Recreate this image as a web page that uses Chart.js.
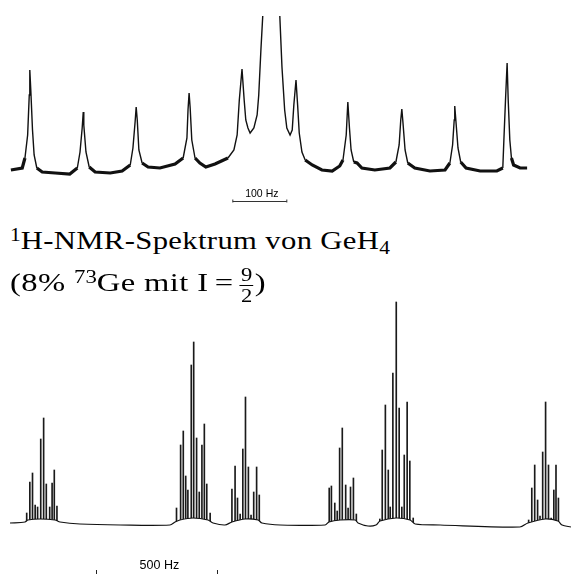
<!DOCTYPE html>
<html>
<head>
<meta charset="utf-8">
<script src="https://cdn.jsdelivr.net/npm/chart.js@4/dist/chart.umd.min.js"></script>
<style>
  html, body { margin: 0; padding: 0; background: #fff; }
  body { width: 571px; height: 574px; position: relative; overflow: hidden; }
  .box { position: absolute; left: 0; }
  .t { position: absolute; left: 10px; font-family: 'Liberation Serif', serif; font-size: 26px; line-height: 26px; letter-spacing: 0.3px; color: #000; white-space: nowrap; transform-origin: 0 0; }
  .t sup { font-size: 0.7em; vertical-align: 0.45em; line-height: 0; letter-spacing: 0; }
  .t sub { font-size: 0.7em; vertical-align: -0.25em; line-height: 0; letter-spacing: 0; }
  .rel { margin: 0 5px; }
  .frac { display: inline-block; vertical-align: middle; text-align: center; font-size: 18px; line-height: 1; letter-spacing: 0; margin-right: 1px; }
  .frac .num { display: block; padding: 0 1px 1px; border-bottom: 1px solid #000; }
  .frac .den { display: block; padding-top: 1px; }
</style>
</head>
<body>
<div class="box" style="top:0;width:571px;height:210px;"><canvas id="topChart" width="571" height="210"></canvas></div>
<div class="box" style="top:290px;width:571px;height:284px;"><canvas id="botChart" width="571" height="284"></canvas></div>
<div class="t" data-w="380" style="top:228px;"><sup>1</sup>H-NMR-Spektrum von GeH<sub>4</sub></div>
<div class="t" data-w="256" style="top:266px;">(8% <sup>73</sup>Ge mit I<span class="rel">=</span><span class="frac"><span class="num">9</span><span class="den">2</span></span>)</div>
<script>
// ---- Top spectrum (Hz relative to centre, intensity in arbitrary units) ----
const topHz = [
  -478, -457, -452, -447, -444, -443, -441, -438, -435, -430, -420, -396, -369,
  -355, -350, -346, -344, -343, -339, -333, -322, -294, -272,
  -257, -252, -248, -246, -244, -241, -235, -224, -202, -174,
  -159, -152, -150, -148, -146, -143, -137, -128, -117, -100, -76,
  -65, -59, -55, -50, -46, -43, -39, -35, -28, -22, -19, -15, -11, 4, 20, 24, 29, 33, 39,
  43, 46, 50, 53, 56, 61, 67, 80, 98, 117, 131,
  137, 143, 146, 149, 152, 157, 163, 172, 196, 224,
  235, 241, 244, 246, 248, 252, 257, 270, 298, 326,
  335, 340, 343, 344, 346, 350, 355, 365, 391, 422,
  433, 435, 438, 441, 443, 446, 449, 453, 465, 478
];
const topInt = [
  10, 12, 22, 45, 85, 110, 88, 50, 25, 12, 8, 7, 6,
  12, 28, 52, 68, 55, 28, 13, 8, 7, 9,
  15, 32, 58, 73, 60, 30, 17, 13, 12, 16,
  22, 42, 70, 87, 72, 40, 22, 17, 13, 16, 22,
  30, 45, 80, 111, 80, 60, 52, 47, 52, 65, 85, 130, 170, 600, 164, 113, 70, 52, 45,
  50, 75, 100, 75, 47, 28, 20, 15, 10, 9, 14,
  20, 45, 78, 52, 30, 18, 17, 12, 10, 12,
  18, 35, 60, 71, 58, 30, 17, 12, 9, 10,
  17, 35, 60, 74, 60, 32, 18, 12, 9, 9,
  12, 40, 80, 117, 80, 40, 22, 15, 12, 12
];
const topScaleBar = [-67, 33];       // 100 Hz
const topScaleLabel = '100 Hz';

// ---- Bottom spectrum (Hz from left edge, intensity) ----
const stickHz = [
  69, 82, 93, 104, 114, 127, 139, 150, 164, 174, 183, 194,
  688, 705, 716, 726, 735, 749, 759, 771, 782, 793, 803, 813, 827,
  917, 930, 940, 951, 962, 973, 985, 996, 1007, 1019, 1030,
  1319, 1328, 1342, 1352, 1362, 1373, 1387, 1397, 1407, 1419, 1431,
  1528, 1538, 1551, 1563, 1571, 1582, 1596, 1608, 1619, 1629, 1641, 1652, 1666,
  2143, 2156, 2168, 2180, 2190, 2201, 2213, 2225, 2236, 2247, 2256, 2266
];
const stickInt = [
  17, 48, 57, 25, 23, 91, 112, 46, 23, 47, 60, 24,
  22, 85, 99, 54, 40, 165, 188, 92, 38, 85, 106, 46, 17,
  41, 64, 32, 16, 81, 133, 63, 15, 38, 63, 35,
  42, 44, 27, 19, 82, 102, 45, 22, 43, 52, 16,
  11, 80, 125, 60, 23, 157, 228, 122, 23, 75, 128, 69, 12,
  10, 42, 65, 30, 14, 78, 128, 65, 12, 40, 65, 32
];
const baseHz = [0, 62, 74, 124, 186, 207, 289, 455, 661, 682, 702, 756, 818, 839, 888, 917, 971, 1025, 1041, 1116,
  1302, 1318, 1364, 1426, 1438, 1479, 1512, 1529, 1595, 1653, 1674, 1777, 2107, 2140, 2211, 2264, 2281, 2318];
const baseInt = [7, 8, 10, 11, 10, 8, 6, 5, 5, 8, 10, 12, 10, 7, 5, 8, 11, 10, 7, 5,
  5, 8, 10, 10, 7, 4, 5, 9, 12, 10, 6, 5, 3, 7, 11, 9, 5, 3];
const botScaleBar = [355, 855];      // 500 Hz
const botScaleLabel = '500 Hz';

// stretch the caption lines to the reference's (wider) Computer-Modern widths
document.querySelectorAll('.t').forEach(el => {
  const w = el.getBoundingClientRect().width;
  el.style.transform = 'scaleX(' + (Number(el.dataset.w) / w) + ')';
});

const topScalePlugin = {
  id: 'topScale',
  afterDraw(chart) {
    const ctx = chart.ctx, xs = chart.scales.x;
    const x0 = xs.getPixelForValue(topScaleBar[0]), x1 = xs.getPixelForValue(topScaleBar[1]);
    const y = 201.5;
    ctx.save();
    ctx.strokeStyle = '#333'; ctx.lineWidth = 1;
    ctx.beginPath();
    ctx.moveTo(x0, y); ctx.lineTo(x1, y);
    ctx.moveTo(x0, y - 2); ctx.lineTo(x0, y + 1);
    ctx.moveTo(x1, y - 2); ctx.lineTo(x1, y + 1);
    ctx.stroke();
    ctx.fillStyle = '#000';
    ctx.font = '10.5px "Liberation Sans", Arial, sans-serif';
    ctx.textAlign = 'center'; ctx.textBaseline = 'alphabetic';
    ctx.fillText(topScaleLabel, (x0 + x1) / 2 + 2, 197);
    ctx.restore();
  }
};

const botScalePlugin = {
  id: 'botScale',
  afterDraw(chart) {
    const ctx = chart.ctx, xs = chart.scales.x;
    const x0 = xs.getPixelForValue(botScaleBar[0]), x1 = xs.getPixelForValue(botScaleBar[1]);
    ctx.save();
    ctx.strokeStyle = '#222'; ctx.lineWidth = 1;
    ctx.beginPath();
    ctx.moveTo(Math.round(x0) + 0.5, 280); ctx.lineTo(Math.round(x0) + 0.5, 284);
    ctx.moveTo(Math.round(x1) + 0.5, 280); ctx.lineTo(Math.round(x1) + 0.5, 284);
    ctx.stroke();
    ctx.fillStyle = '#000';
    ctx.font = '12.5px "Liberation Sans", Arial, sans-serif';
    ctx.textAlign = 'center'; ctx.textBaseline = 'alphabetic';
    ctx.fillText(botScaleLabel, (x0 + x1) / 2 + 3, 279);
    ctx.restore();
  }
};

new Chart(document.getElementById('topChart'), {
  type: 'line',
  data: {
    datasets: [{
      data: topHz.map((x, i) => ({ x, y: topInt[i] })),
      borderColor: '#111',
      borderWidth: 1.4,
      pointRadius: 0,
      tension: 0,
      segment: {
        borderWidth: c => (c.p0.parsed.y < 25 && c.p1.parsed.y < 25) ? 3.2 : 1.4
      }
    }]
  },
  options: {
    responsive: false, animation: false, devicePixelRatio: 1,
    layout: { padding: { top: 16, bottom: 30, left: 0, right: 0 } },
    scales: {
      x: { type: 'linear', min: -498.2, max: 559.3, display: false, offset: false },
      y: { type: 'linear', min: 0, max: 164, display: false }
    },
    plugins: { legend: { display: false }, tooltip: { enabled: false } }
  },
  plugins: [topScalePlugin]
});

new Chart(document.getElementById('botChart'), {
  type: 'bar',
  data: {
    datasets: [
      {
        type: 'bar',
        data: stickHz.map((x, i) => ({ x, y: stickInt[i] })),
        backgroundColor: '#1a1a1a',
        barThickness: 1,
        order: 2
      },
      {
        type: 'line',
        data: baseHz.map((x, i) => ({ x, y: baseInt[i] })),
        borderColor: '#111',
        borderWidth: 1.2,
        backgroundColor: '#fff',
        fill: 'start',
        pointRadius: 0,
        tension: 0.3,
        order: 1
      }
    ]
  },
  options: {
    responsive: false, animation: false, devicePixelRatio: 1,
    layout: { padding: { top: 10, bottom: 44, left: 0, right: 0 } },
    scales: {
      x: { type: 'linear', min: -41.3, max: 2318, display: false, offset: false },
      y: { type: 'linear', min: 0, max: 230, display: false }
    },
    plugins: { legend: { display: false }, tooltip: { enabled: false } }
  },
  plugins: [botScalePlugin]
});
</script>
</body>
</html>
